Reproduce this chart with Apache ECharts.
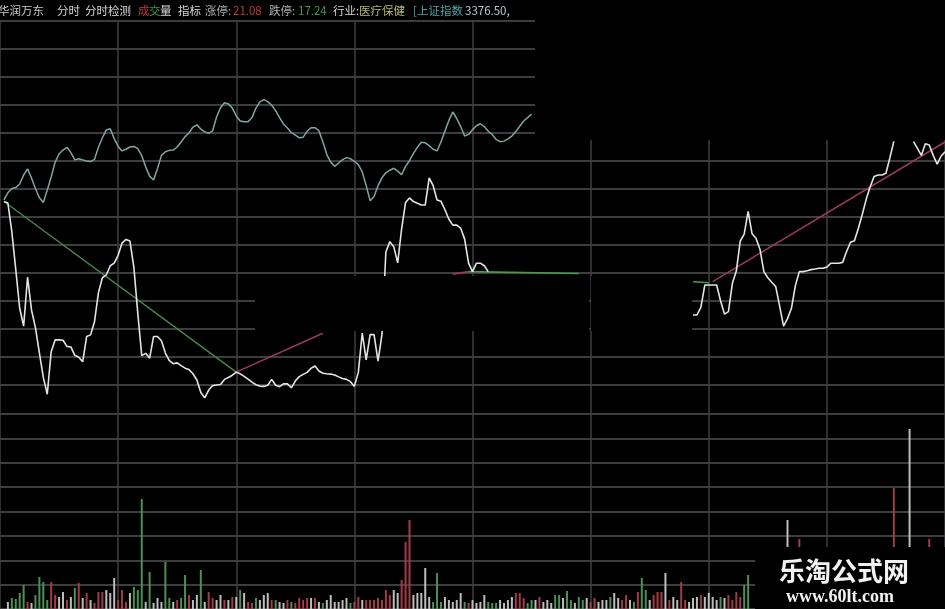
<!DOCTYPE html>
<html>
<head>
<meta charset="utf-8">
<script src="https://cdn.jsdelivr.net/npm/echarts@6/dist/echarts.min.js"></script>
<style>
html,body{margin:0;padding:0;background:#000;}
#chart{width:945px;height:609px;}
</style>
</head>
<body>
<div id="chart"></div>
<script>
// ---------- DATA ----------
// header texts
const headerTexts = ['华润万东','分时','分时检测','成','交','量','指标','涨停:','21.08','跌停:','17.24','行业:','医疗保健','[上证指数','3376.50,'];

// minute index 0 = 9:30, 240 = 15:00 ; price/index levels in grid units
const priceStartMinute = 1;
const priceLevels = [
 6.55,6.50,5.48,4.13,2.74,2.10,3.85,2.68,2.05,1.15,
 0.27,-0.33,1.19,1.61,1.61,1.60,1.38,1.36,1.06,0.99,
 0.83,1.73,1.79,2.26,3.30,3.83,3.93,4.26,4.35,4.63,
 5.07,5.20,5.14,4.20,2.55,1.05,1.13,0.96,1.73,1.73,
 1.58,1.14,0.87,0.76,0.79,0.69,0.60,0.55,0.40,0.18,
 -0.27,-0.46,-0.18,-0.02,0.00,0.02,0.20,0.27,0.35,0.46,
 0.40,0.31,0.21,0.10,0.01,-0.04,-0.05,-0.01,0.20,-0.01,
 -0.06,0.04,0.04,-0.10,0.14,0.30,0.38,0.45,0.60,0.68,
 0.50,0.42,0.40,0.39,0.36,0.29,0.23,0.20,0.12,-0.05,
 0.45,1.85,0.90,1.80,1.80,0.85,1.80,4.75,5.12,4.94,
 4.36,5.58,6.52,6.68,6.55,6.49,6.43,6.43,7.40,7.12,
 6.61,6.56,6.26,5.92,5.71,5.71,5.60,5.21,4.35,4.05,
 4.35,4.35,4.26,4.05,
 null,null,null,null,null,null,null,null,null,null,
 null,null,null,null,null,null,null,null,null,null,
 null,null,null,null,null,null,null,null,null,null,
 null,null,null,null,null,null,null,null,null,null,
 null,null,null,null,null,null,null,null,null,null,
 null,
 2.50,2.50,2.77,3.57,3.57,3.57,3.57,3.01,2.53,2.62,
 3.63,4.07,5.14,5.39,6.20,5.40,5.24,4.85,4.05,3.83,
 3.67,3.52,2.82,2.10,2.37,2.74,3.55,4.05,4.05,4.08,
 4.12,4.14,4.17,4.17,4.21,4.35,4.35,4.35,4.38,4.77,
 5.10,5.15,5.60,6.10,6.64,7.08,7.45,7.50,7.50,7.56,
 8.11,8.70,
 null,null,null,null,
 8.69,8.45,8.20,8.62,8.57,8.20,7.89,8.17,8.33
];

const indexStartMinute = 1;
const indexLevels = [
 6.61,6.87,7.02,7.05,7.18,7.50,7.72,7.39,7.02,6.69,
 6.52,6.96,7.43,7.96,8.25,8.39,8.49,8.30,8.04,8.08,
 8.04,8.00,7.98,8.06,8.49,8.83,9.11,9.15,8.80,8.52,
 8.36,8.42,8.50,8.52,8.44,8.19,7.79,7.46,7.32,7.73,
 8.20,8.33,8.38,8.39,8.50,8.68,8.87,9.00,9.21,9.29,
 9.14,9.04,8.99,9.08,9.57,9.90,10.08,10.04,9.89,9.61,
 9.43,9.40,9.40,9.55,9.89,10.11,10.19,10.12,9.99,9.80,
 9.55,9.32,9.18,9.01,8.92,8.83,8.85,9.06,9.19,9.19,
 9.08,8.68,8.23,7.96,7.81,7.93,8.05,8.12,8.08,7.99,
 7.87,7.61,7.12,6.58,6.73,7.12,7.40,7.58,7.67,7.74,
 7.64,7.51,7.81,8.01,8.27,8.49,8.67,8.65,8.55,8.42,
 8.36,8.69,9.07,9.45,9.75,9.51,9.23,8.89,8.95,9.12,
 9.26,9.33,9.23,9.06,8.95,8.77,8.69,8.71,8.79,8.89,
 9.05,9.24,9.43,9.55,9.68
];

// trend segments of the 分时检测 indicator: [minute, level]
const trendFallA = [[1,6.55],[60,0.46]];
const trendRiseA = [[60,0.46],[82,1.85]];
const trendRiseB = [[115,3.96],[119,4.05]];
const trendFallB = [[119,4.05],[147,3.98]];
const trendFallC = [[176,3.69],[180,3.65]];
const trendRiseC = [[181,3.69],[240,8.68]];

// volume per minute from minute 2 to 190 ; u = up, d = down, f = flat
const volStartMinute = 2;
const volumes = [
 140,220,200,320,480,140,120,280,640,540,
 180,540,280,240,340,180,240,420,520,220,
 320,180,120,340,340,380,320,620,180,380,
 140,320,440,380,2200,140,740,120,220,140,
 940,220,140,180,220,680,280,180,280,780,
 140,340,220,180,280,180,180,240,240,380,
 320,140,120,220,180,280,320,180,180,140,
 120,180,140,120,220,180,220,220,220,140,
 120,180,280,140,140,180,220,120,140,240,
 180,180,180,180,220,180,380,280,380,320,
 580,1340,1780,280,320,320,820,240,140,720,
 140,240,180,140,180,320,140,120,180,120,140,
 280,140,120,120,180,120,180,240,320,320,
 220,120,180,180,240,140,180,120,280,280,
 220,360,180,120,240,180,220,140,220,140,180,
 180,240,320,220,180,280,180,140,340,620,
 380,180,280,340,340,720,180,240,180,540,
 180,140,220,240,280,240,320,240,180,240,
 220,280,180,340,240,480,680
];
const volDirs = [
 'f','d','d','d','d','u','f','d','d','d',
 'd','u','u','f','f','u','f','d','u','f',
 'u','f','u','u','u','f','f','f','u','u',
 'u','f','d','d','d','f','d','f','f','f',
 'd','d','f','u','d','d','u','f','f','d',
 'f','u','u','f','f','u','f','u','f','d',
 'f','u','u','d','f','f','f','u','d','f',
 'f','u','d','u','u','u','u','f','u','f',
 'd','f','f','f','f','f','f','d','u','u',
 'f','u','u','u','u','u','u','u','f','f',
 'u','u','u','f','f','f','f','f','d','d',
 'd','f','f','f','f','f','d','u','f','f','f',
 'f','d','d','d','f','f','f','f','u','u',
 'u','d','d','f','u','f','f','f','d','d',
 'f','d','d','f','d','d','f','u','u','f','f',
 'f','d','f','f','u','u','f','d','u','d',
 'd','f','u','u','u','f','u','f','f','u',
 'u','f','f','f','u','f','f','f','f','d',
 'f','u','u','u','u','d','d'
];
// late bars that rise above the watermark box
const lateVolMinutes = [200,203,227,231,236];
const lateVolumes = [1780,1400,2420,3600,1400];
const lateVolDirs = ['f','u','u','f','u'];

// ---------- CHART ----------
const dirColor = {u:'#a13c48', d:'#4d8f57', f:'#bdbdbd'};
const toPairs = (start, arr) => arr.map((v,i)=>[start+i, v]);
const volData = volumes.map((v,i)=>({value:[volStartMinute+i, v], itemStyle:{color:dirColor[volDirs[i]]}}))
  .concat(lateVolMinutes.map((m,i)=>({value:[m, lateVolumes[i]], itemStyle:{color:dirColor[lateVolDirs[i]]}})));

const chart = echarts.init(document.getElementById('chart'), null, {renderer:'canvas'});

const headerX = [-2,57,85,138,149,160,178,205,233,269,298,333,359,413,465];
const headerColors = ['#c8c8c8','#d6d6d6','#d6d6d6','#c23a3c','#3f9a4c','#d6d6d6','#d6d6d6','#b0b0b0','#c23a3c','#b0b0b0','#3f9a4c','#d6d6d6','#b3b66c','#4fa2a4','#b9c9d0'];
const headerGraphics = headerTexts.map((t,i)=>({
  type:'text', x:headerX[i], y:11, z:60,
  style:{text:t, fill:headerColors[i], font:'11.5px "Noto Sans CJK SC"', textVerticalAlign:'middle'}
}));

const hAxisBase = {type:'value', min:0, max:240, interval:30, axisLine:{show:false}, axisTick:{show:false}, axisLabel:{show:false}};
const gridLine = {color:'#525252', width:1.7};

chart.setOption({
  backgroundColor:'#000',
  animation:false,
  grid:[
    {left:-5, width:952, top:21, bottom:0},
    {left:-5, width:952, top:21, height:364},
    {left:-5, width:952, top:414, height:195}
  ],
  xAxis:[
    Object.assign({gridIndex:0, splitLine:{show:true, lineStyle:{color:'#3f3f3f', width:1.5}}}, hAxisBase),
    Object.assign({gridIndex:1, splitLine:{show:false}}, hAxisBase),
    Object.assign({gridIndex:2, splitLine:{show:false}}, hAxisBase)
  ],
  yAxis:[
    {gridIndex:0, type:'value', min:0, max:1, axisLine:{show:false}, axisTick:{show:false}, axisLabel:{show:false}, splitLine:{show:false}},
    {gridIndex:1, type:'value', min:0, max:13, interval:1, axisLine:{show:false}, axisTick:{show:false}, axisLabel:{show:false}, splitLine:{show:true, lineStyle:gridLine}},
    {gridIndex:2, type:'value', min:0, max:3900, interval:487.5, axisLine:{show:false}, axisTick:{show:false}, axisLabel:{show:false}, splitLine:{show:true, lineStyle:gridLine}}
  ],
  series:[
    {type:'line', name:'上证指数', xAxisIndex:1, yAxisIndex:1, data:toPairs(indexStartMinute, indexLevels), showSymbol:false, clip:false,
     lineStyle:{color:'#7ea6a4', width:1.5}, z:3},
    {type:'line', name:'trendFallA', xAxisIndex:1, yAxisIndex:1, data:trendFallA, showSymbol:false, clip:false, lineStyle:{color:'#4a8c4a', width:1.3}, z:4},
    {type:'line', name:'trendRiseA', xAxisIndex:1, yAxisIndex:1, data:trendRiseA, showSymbol:false, clip:false, lineStyle:{color:'#9a3a56', width:1.6}, z:4},
    {type:'line', name:'trendRiseB', xAxisIndex:1, yAxisIndex:1, data:trendRiseB, showSymbol:false, clip:false, lineStyle:{color:'#9a3a56', width:1.6}, z:4},
    {type:'line', name:'trendFallB', xAxisIndex:1, yAxisIndex:1, data:trendFallB, showSymbol:false, clip:false, lineStyle:{color:'#4a9a4a', width:1.6}, z:4},
    {type:'line', name:'trendFallC', xAxisIndex:1, yAxisIndex:1, data:trendFallC, showSymbol:false, clip:false, lineStyle:{color:'#4a9a4a', width:1.6}, z:4},
    {type:'line', name:'trendRiseC', xAxisIndex:1, yAxisIndex:1, data:trendRiseC, showSymbol:false, clip:false, lineStyle:{color:'#9a3a56', width:1.6}, z:4},
    {type:'line', name:'华润万东', xAxisIndex:1, yAxisIndex:1, data:toPairs(priceStartMinute, priceLevels), showSymbol:false, clip:false,
     connectNulls:false, lineStyle:{color:'#e4e4e4', width:1.6}, z:5},
    {type:'bar', name:'成交量', xAxisIndex:2, yAxisIndex:2, data:volData, barWidth:2, z:3}
  ],
  graphic:[
    {type:'rect', z:50, shape:{x:535, y:0, width:410, height:140}, style:{fill:'#000'}},
    {type:'rect', z:50, shape:{x:255, y:276, width:334, height:55}, style:{fill:'#000'}},
    {type:'rect', z:50, shape:{x:591, y:276, width:101, height:55}, style:{fill:'#000'}},
    {type:'rect', z:55, shape:{x:755, y:547, width:190, height:62}, style:{fill:'#000'}},
    {type:'text', z:60, x:844, y:571, style:{text:'乐淘公式网', fill:'#f2f2f2', font:'bold 26px "Noto Sans CJK SC"', textAlign:'center', textVerticalAlign:'middle'}},
    {type:'text', z:60, x:840, y:597, style:{text:'www.60lt.com', fill:'#f2f2f2', font:'bold 18px "Liberation Serif"', textAlign:'center', textVerticalAlign:'middle'}}
  ].concat(headerGraphics)
});
</script>
</body>
</html>
